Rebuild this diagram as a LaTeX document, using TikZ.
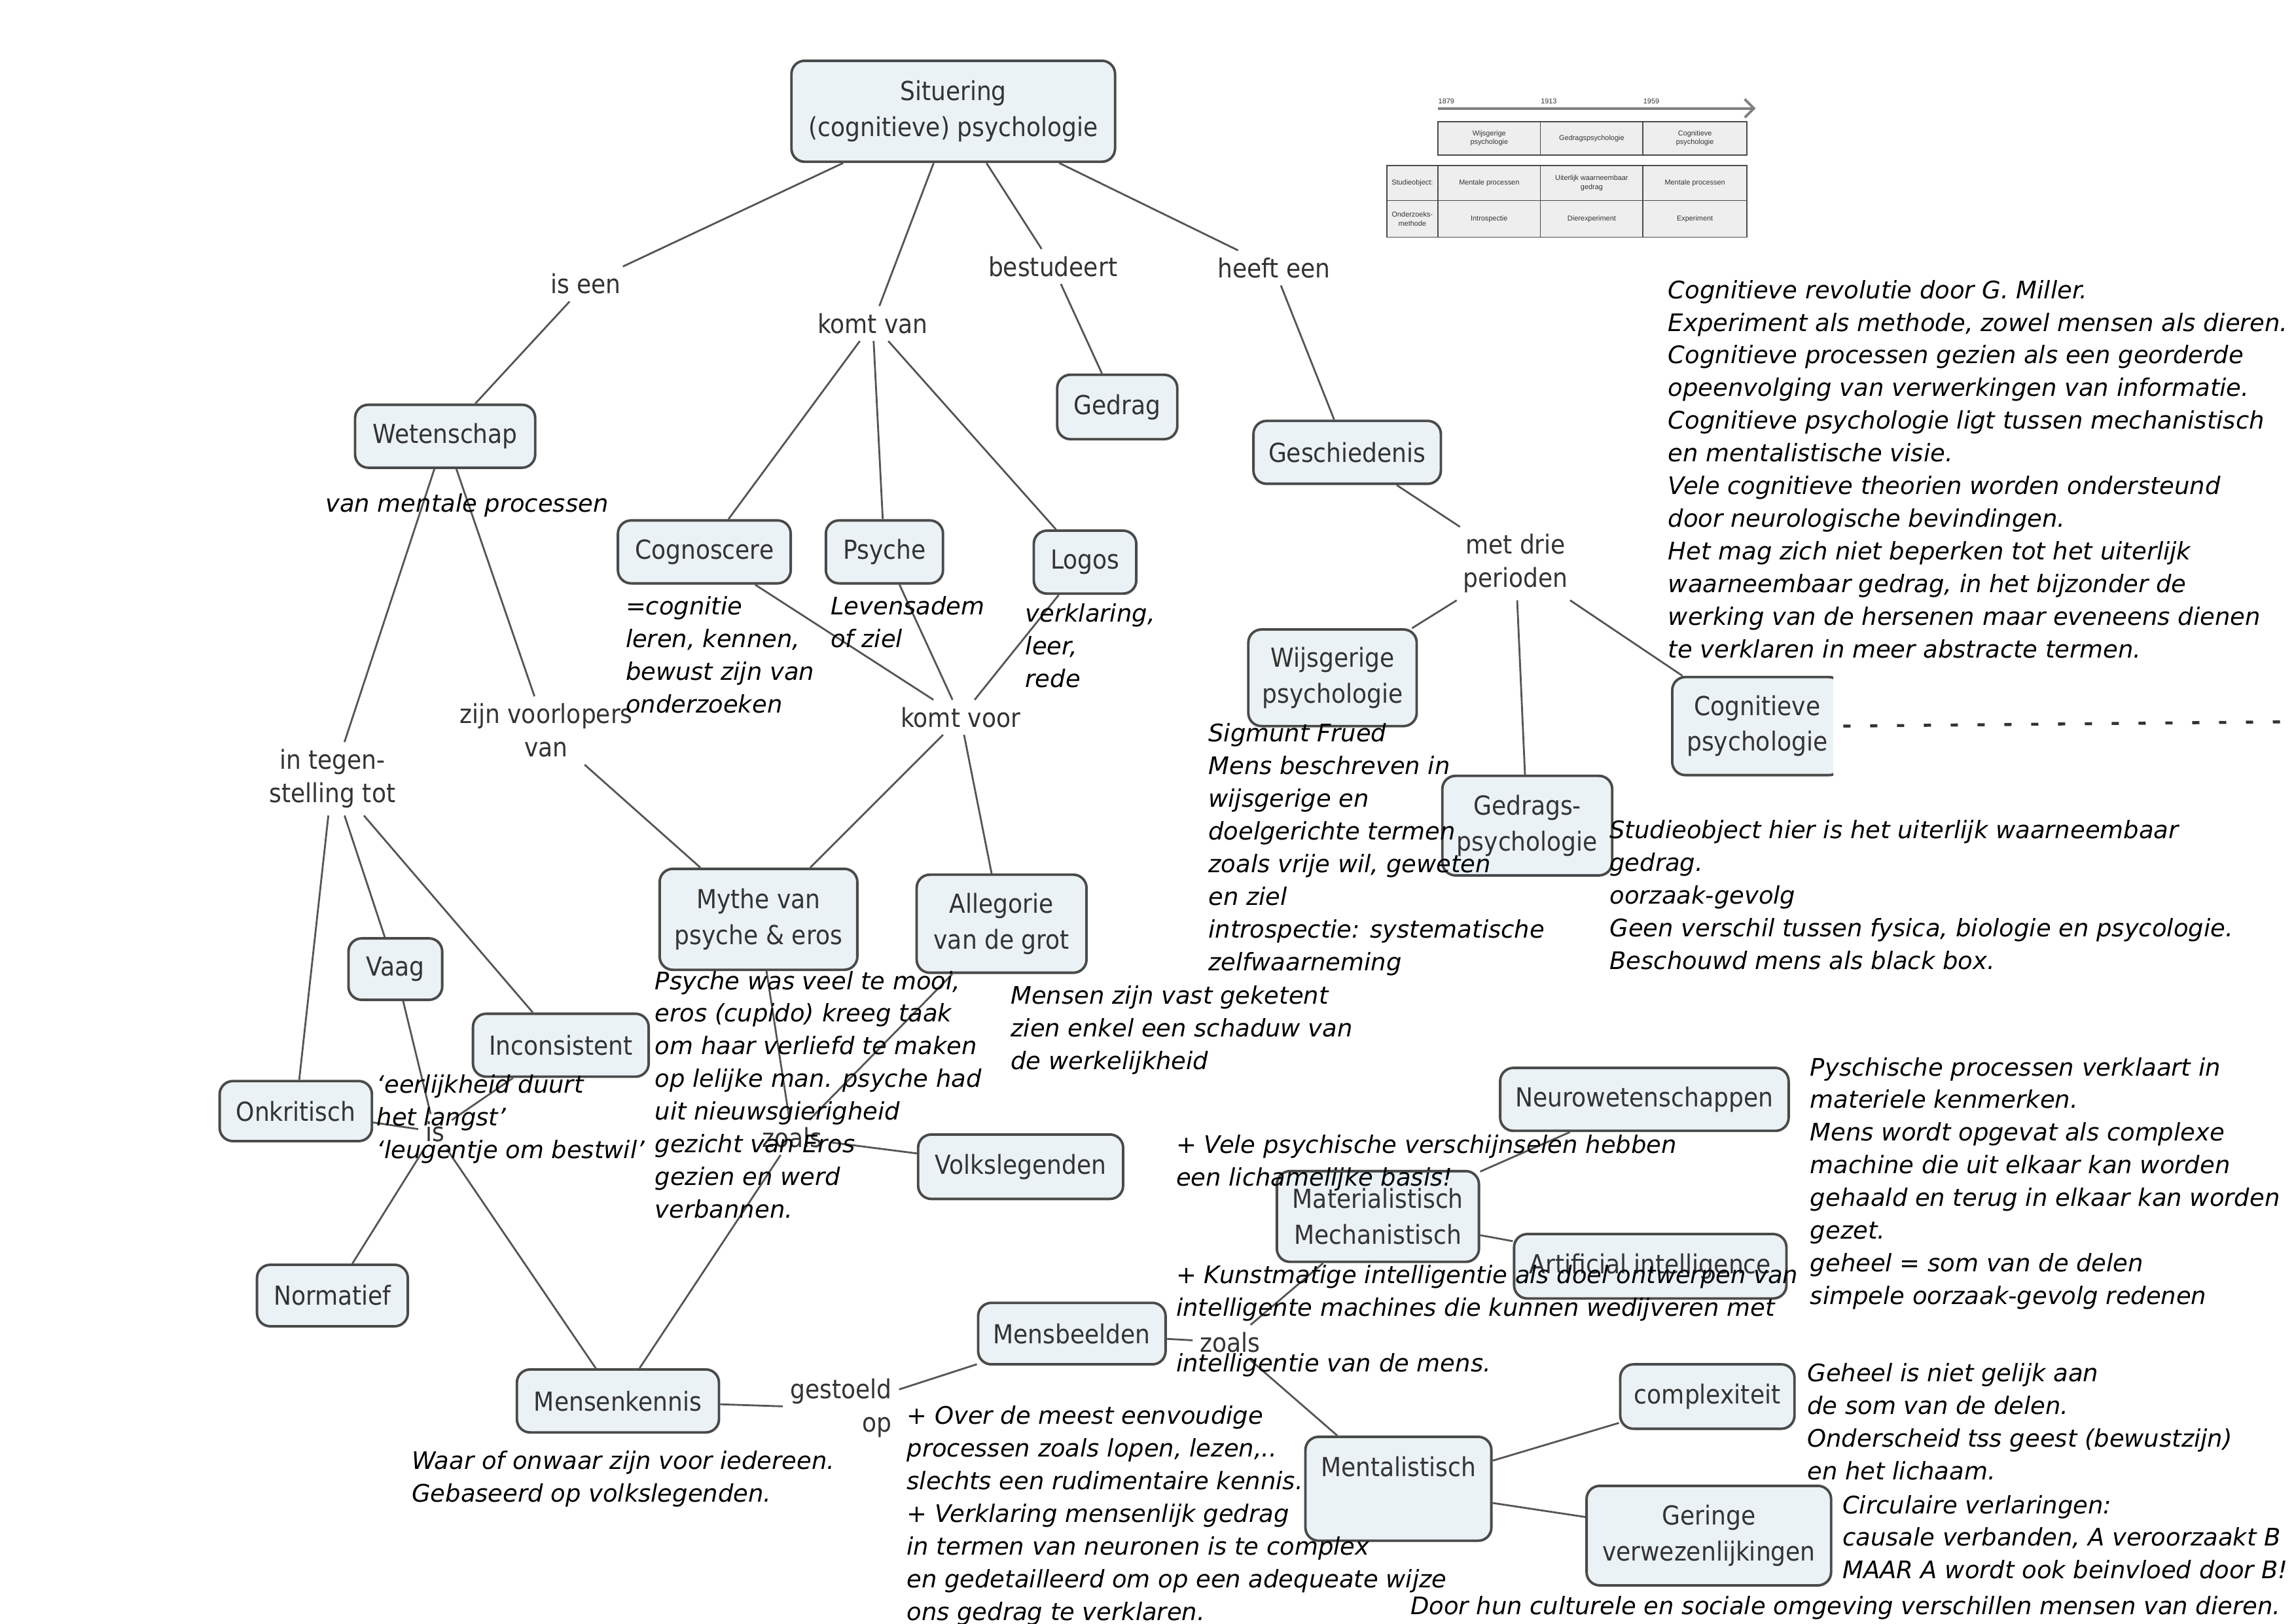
\documentclass[tikz,border=0pt]{standalone}
\usepackage{fontspec}
\setmainfont{DejaVu Sans}
\newfontfamily\mapfont[FakeStretch=0.9]{DejaVu Sans}
\newfontfamily\notefont{DejaVu Sans}
\newfontfamily\tabfont{Liberation Sans}
\usetikzlibrary{arrows.meta}
\newlength{\pxu}\setlength{\pxu}{0.02237cm}
\definecolor{boxfill}{HTML}{EBF2F5}
\definecolor{boxline}{HTML}{4A4A4A}
\definecolor{inkgray}{HTML}{333333}
\definecolor{linkgray}{HTML}{555555}
\definecolor{tabfill}{HTML}{EEEEEE}
\tikzset{
    concept/.style={draw=boxline, fill=boxfill, line width=1.1pt,
                    rounded corners=9\pxu, minimum height=43\pxu,
                    inner sep=2pt, align=center, text=inkgray,
                    font=\mapfont\fontsize{11.4}{15.5}\selectfont},
    boxw/.style={minimum width=#1\pxu},
    boxh/.style={minimum height=#1\pxu},
    phrase/.style={inner sep=3pt, align=center, text=inkgray,
                   font=\mapfont\fontsize{11.4}{14.5}\selectfont},
    link/.style={draw=linkgray, line width=0.8pt},
    dashrule/.style={draw=inkgray, line width=1.3pt,
                     dash pattern=on 0.11cm off 0.3cm},
    note/.style={anchor=north west, inner sep=0pt, align=left,
                 font=\notefont\itshape\fontsize{10.5}{14.2}\selectfont},
    cell/.style={draw=boxline, fill=tabfill, line width=0.5pt},
    celltext/.style={inner sep=0pt, align=center, text=inkgray,
                     font=\tabfont\fontsize{3.1}{3.8}\selectfont},
    timeline/.style={draw=gray, line width=1.1pt,
                     -{Straight Barb[length=4pt,width=8pt]}},
}
\begin{document}
\begin{tikzpicture}[x=0.02237cm, y={(0cm,-0.02237cm)}]
\useasboundingbox (0,0) rectangle (1568,1109);

% concepts
\node[concept, boxw=221, boxh=69] (situering) at (651,76) {Situering\\(cognitieve) psychologie};
\node[concept, boxw=123] (wetenschap) at (304,298) {Wetenschap};
\node[concept, boxw=82, boxh=44] (gedrag) at (763,278) {Gedrag};
\node[concept, boxw=128] (geschiedenis) at (920,309) {Geschiedenis};
\node[concept, boxw=118] (cognoscere) at (481,377) {Cognoscere};
\node[concept, boxw=80] (psyche) at (604,377) {Psyche};
\node[concept, boxw=70] (logos) at (741,384) {Logos};
\node[concept, boxw=115, boxh=66] (wijsgerig) at (910,463) {Wijsgerige\\psychologie};
\node[concept, boxw=116, boxh=68] (gedragspsy) at (1043,564) {Gedrags-\\psychologie};
\begin{scope}
    \clip (1120,440) rectangle (1252,560);
    \node[concept, boxw=116, boxh=67] (cogpsy) at (1200,496) {Cognitieve\\psychologie};
\end{scope}
\node[concept, boxw=135, boxh=69] (mythe) at (518,628) {Mythe van\\psyche \& eros};
\node[concept, boxw=116, boxh=67] (allegorie) at (684,631) {Allegorie\\van de grot};
\node[concept, boxw=64, boxh=42] (vaag) at (270,662) {Vaag};
\node[concept, boxw=120] (inconsistent) at (383,714) {Inconsistent};
\node[concept, boxw=104, boxh=41] (onkritisch) at (202,759) {Onkritisch};
\node[concept, boxw=140, boxh=44] (volkslegenden) at (697,797) {Volkslegenden};
\node[concept, boxw=197] (neurowet) at (1123,751) {Neurowetenschappen};
\node[concept, boxw=138, boxh=62] (materialistisch) at (941,831) {Materialistisch\\Mechanistisch};
\node[concept, boxw=186, boxh=44] (artificial) at (1127,865) {Artificial intelligence};
\node[concept, boxw=103, boxh=42] (normatief) at (227,885) {Normatief};
\node[concept, boxw=128, boxh=42] (mensbeelden) at (732,911) {Mensbeelden};
\node[concept, boxw=138] (mensenkennis) at (422,957) {Mensenkennis};
\node[concept, boxw=119, boxh=44] (complexiteit) at (1166,954) {complexiteit};
\node[concept, boxw=127, boxh=71, text depth=30\pxu] (mentalistisch) at (955,1017) {Mentalistisch};
\node[concept, boxw=167, boxh=68] (geringe) at (1167,1049) {Geringe\\verwezenlijkingen};

% linking phrases
\node[phrase] (isEen) at (400,194) {is een};
\node[phrase] (komtVan) at (596,221) {komt van};
\node[phrase] (bestudeert) at (719,182) {bestudeert};
\node[phrase] (heeftEen) at (870,183) {heeft een};
\node[phrase] (metDrie) at (1035,385) {met drie\\perioden};
\node[phrase] (voorlopers) at (373,499) {zijn voorlopers\\van};
\node[phrase] (komtVoor) at (656,490) {komt voor};
\node[phrase] (tegenstelling) at (227,532) {in tegen-\\stelling tot};
\node[phrase] (isLbl) at (297,773) {is};
\node[phrase] (zoalsA) at (541,777) {zoals};
\node[phrase] (zoalsB) at (840,917) {zoals};
\node[phrase, align=right, anchor=east] (gestoeld) at (614,962) {gestoeld\\op};

% connections
\draw[link] (situering) -- (isEen);
\draw[link] (isEen) -- (wetenschap);
\draw[link] (situering) -- (komtVan);
\foreach \t in {cognoscere,psyche,logos}
    \draw[link] (komtVan) -- (\t);
\draw[link] (situering) -- (bestudeert);
\draw[link] (bestudeert) -- (gedrag);
\draw[link] (situering) -- (heeftEen);
\draw[link] (heeftEen) -- (geschiedenis);
\draw[link] (geschiedenis) -- (metDrie);
\foreach \t in {wijsgerig,gedragspsy,cogpsy}
    \draw[link] (metDrie) -- (\t);
\draw[link] (wetenschap) -- (tegenstelling);
\foreach \t in {onkritisch,vaag,inconsistent}
    \draw[link] (tegenstelling) -- (\t);
\draw[link] (wetenschap) -- (voorlopers);
\draw[link] (voorlopers) -- (mythe);
\foreach \t in {cognoscere,psyche,logos}
    \draw[link] (\t) -- (komtVoor);
\draw[link] (komtVoor) -- (mythe);
\draw[link] (komtVoor) -- (allegorie);
\foreach \t in {vaag,inconsistent,onkritisch,normatief,mensenkennis}
    \draw[link] (isLbl) -- (\t);
\draw[link] (mythe) -- (zoalsA);
\draw[link] (allegorie) -- (zoalsA);
\draw[link] (zoalsA) -- (volkslegenden);
\draw[link] (zoalsA) -- (mensenkennis);
\draw[link] (mensenkennis) -- (gestoeld);
\draw[link] (gestoeld) -- (mensbeelden);
\draw[link] (mensbeelden) -- (zoalsB);
\draw[link] (zoalsB) -- (materialistisch);
\draw[link] (zoalsB) -- (mentalistisch);
\draw[link] (materialistisch) -- (neurowet);
\draw[link] (materialistisch) -- (artificial);
\draw[link] (mentalistisch) -- (complexiteit);
\draw[link] (mentalistisch) -- (geringe);
\coordinate (dashend) at (1568,493);
\draw[dashrule] (cogpsy.east) -- (dashend);

% timeline table
\coordinate (tStart) at (982,74);
\coordinate (tEnd) at (1199,74);
\draw[timeline] (tStart) -- (tEnd);
\node[celltext, anchor=south west] (y1879) at (982,71) {1879};
\node[celltext, anchor=south west] (y1913) at (1052,71) {1913};
\node[celltext, anchor=south west] (y1959) at (1122,71) {1959};
\draw[cell] (982,83) rectangle (1193,106);
\draw[cell] (947,113) rectangle (1193,162);
\draw[boxline, line width=0.5pt] (1052,83) -- (1052,106) (1122,83) -- (1122,106)
    (982,113) -- (982,162) (1052,113) -- (1052,162) (1122,113) -- (1122,162)
    (947,137) -- (1193,137);
\node[celltext] (tWijs) at (1017,94.5) {Wijsgerige\\psychologie};
\node[celltext] (tGedrag) at (1087,94.5) {Gedragspsychologie};
\node[celltext] (tCogn) at (1157.5,94.5) {Cognitieve\\psychologie};
\node[celltext] (tStudie) at (964.5,125) {Studieobject:};
\node[celltext] (tMent1) at (1017,125) {Mentale processen};
\node[celltext] (tUiter) at (1087,125) {Uiterlijk waarneembaar\\gedrag};
\node[celltext] (tMent2) at (1157.5,125) {Mentale processen};
\node[celltext] (tMethode) at (964.5,149.5) {Onderzoeks-\\methode};
\node[celltext] (tIntro) at (1017,149.5) {Introspectie};
\node[celltext] (tDier) at (1087,149.5) {Dierexperiment};
\node[celltext] (tExp) at (1157.5,149.5) {Experiment};

% notes
\node[note] (noteWet) at (222,337) {van mentale processen};
\node[note] (noteCogn) at (427,407) {=cognitie\\leren, kennen,\\bewust zijn van\\onderzoeken};
\node[note] (notePsy) at (567,407) {Levensadem\\of ziel};
\node[note] (noteLogos) at (700,412) {verklaring,\\leer,\\rede};
\node[note] (noteRevol) at (1139,191) {Cognitieve revolutie door G. Miller.\\
    Experiment als methode, zowel mensen als dieren.\\
    Cognitieve processen gezien als een georderde\\
    opeenvolging van verwerkingen van informatie.\\
    Cognitieve psychologie ligt tussen mechanistisch\\
    en mentalistische visie.\\
    Vele cognitieve theorien worden ondersteund\\
    door neurologische bevindingen.\\
    Het mag zich niet beperken tot het uiterlijk\\
    waarneembaar gedrag, in het bijzonder de\\
    werking van de hersenen maar eveneens dienen\\
    te verklaren in meer abstracte termen.};
\node[note] (noteFreud) at (825,494) {Sigmunt Frued\\Mens beschreven in\\wijsgerige en\\doelgerichte termen\\
    zoals vrije wil, geweten\\en ziel\\introspectie: systematische\\zelfwaarneming};
\node[note] (noteGedrag) at (1099,560) {Studieobject hier is het uiterlijk waarneembaar\\gedrag.\\oorzaak-gevolg\\
    Geen verschil tussen fysica, biologie en psycologie.\\Beschouwd mens als black box.};
\node[note] (noteMythe) at (447,663) {Psyche was veel te mooi,\\eros (cupido) kreeg taak\\om haar verliefd te maken\\
    op lelijke man. psyche had\\uit nieuwsgierigheid\\gezicht van Eros\\gezien en werd\\verbannen.};
\node[note] (noteGrot) at (690,673) {Mensen zijn vast geketent\\zien enkel een schaduw van\\de werkelijkheid};
\node[note] (noteSpreuk) at (257,734) {‘eerlijkheid duurt\\het langst’\\‘leugentje om bestwil’};
\node[note] (noteMater) at (803,775) {+ Vele psychische verschijnselen hebben\\een lichamelijke basis!};
\node[note] (noteMech) at (1236,722) {Pyschische processen verklaart in\\materiele kenmerken.\\
    Mens wordt opgevat als complexe\\machine die uit elkaar kan worden\\
    gehaald en terug in elkaar kan worden\\gezet.\\geheel = som van de delen\\simpele oorzaak-gevolg redenen};
\node[note] (noteAI) at (803,864) {+ Kunstmatige intelligentie als doel ontwerpen van\\
    intelligente machines die kunnen wedijveren met\\[0.35cm]intelligentie van de mens.};
\node[note] (noteCompl) at (1234,931) {Geheel is niet gelijk aan\\de som van de delen.\\
    Onderscheid tss geest (bewustzijn)\\en het lichaam.};
\node[note] (noteCirc) at (1258,1021) {Circulaire verlaringen:\\causale verbanden, A veroorzaakt B\\MAAR A wordt ook beinvloed door B!};
\node[note] (noteDieren) at (963,1090) {Door hun culturele en sociale omgeving verschillen mensen van dieren.};
\node[note] (noteKennis) at (281,991) {Waar of onwaar zijn voor iedereen.\\Gebaseerd op volkslegenden.};
\node[note] (noteMensb) at (619,960) {+ Over de meest eenvoudige\\processen zoals lopen, lezen,..\\
    slechts een rudimentaire kennis.\\+ Verklaring mensenlijk gedrag\\in termen van neuronen is te complex\\
    en gedetailleerd om op een adequeate wijze\\ons gedrag te verklaren.};

\end{tikzpicture}
\end{document}
